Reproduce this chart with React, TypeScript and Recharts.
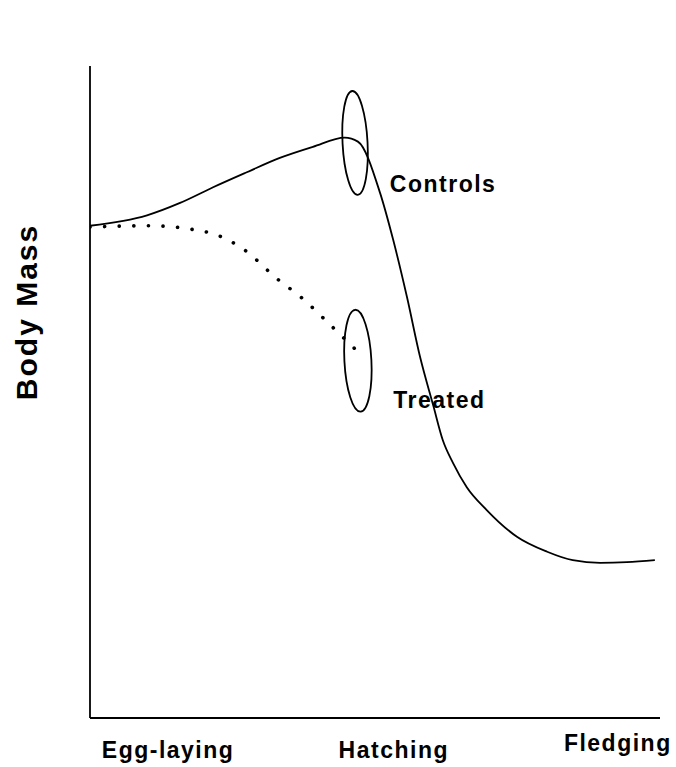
import React from 'react';
import { LineChart, Line, XAxis, YAxis, ReferenceDot } from 'recharts';

// stage along the breeding season (0-100) vs relative body mass (0-100)
const controlStage = [0, 10, 15.8, 21.6, 27.5, 33.3, 39.1, 44.7, 47.0, 50.9, 53.2, 55.6, 57.9, 60.2, 61.9, 63.7, 66.1, 69.6, 74.9, 80.2, 84.7, 89.5, 94.2, 99.1];
const controlMass = [75.5, 77.1, 79.0, 81.4, 83.7, 85.9, 87.6, 89.0, 88.4, 80.5, 73.3, 64.6, 55.4, 48.0, 42.6, 39.1, 35.4, 31.9, 27.8, 25.5, 24.2, 23.8, 23.9, 24.2];

const treatedStage = [0, 10.5, 17.5, 22.8, 27.4, 32.5, 37.2, 42.5, 47.9];
const treatedMass = [75.3, 75.5, 75.0, 73.9, 71.6, 67.6, 64.4, 60.0, 55.4];

const stageTicks = [13.7, 53.3, 92.6];
const stageLabels = ['Egg-laying', 'Hatching', 'Fledging'];

// circled points at hatching
const circleStage = [46.5, 47.0];
const circleMass = [88.2, 54.8];

const seriesNames = ['Controls', 'Treated'];
const seriesLabelStage = [52.6, 53.2];
const seriesLabelMass = [80.7, 47.5];

const controls = controlStage.map((x, i) => ({ x, y: controlMass[i] }));
const treated = treatedStage.map((x, i) => ({ x, y: treatedMass[i] }));

const FONT = '"Liberation Sans", Arial, sans-serif';

const StageTick = (props: any) => {
    const { x, y, payload, index } = props;
    // Fledging sits a little higher in the original
    const lift = index === 2 ? -7 : 0;
    return (
        <text
            x={x}
            y={y + 32 + lift}
            textAnchor="middle"
            fontFamily={FONT}
            fontWeight="bold"
            fontSize={23}
            letterSpacing={1.5}
            fill="#000"
        >
            {stageLabels[stageTicks.indexOf(payload.value)]}
        </text>
    );
};

const YLabel = () => (
    <text
        x={37}
        y={312}
        transform="rotate(-90 37 312)"
        textAnchor="middle"
        fontFamily={FONT}
        fontWeight="bold"
        fontSize={30}
        letterSpacing={2}
        fill="#000"
    >
        Body Mass
    </text>
);

export default function App() {
    return (
        <div style={{ position: 'absolute', left: 0, top: 0, background: '#fff' }}>
            <LineChart
                width={676}
                height={767}
                data={controls}
                margin={{ top: 66, right: 16, bottom: 48, left: 89 }}
            >
                <XAxis
                    type="number"
                    dataKey="x"
                    domain={[0, 100]}
                    ticks={stageTicks}
                    tick={<StageTick />}
                    tickLine={false}
                    height={1}
                    axisLine={{ stroke: '#000', strokeWidth: 1.8 }}
                    allowDataOverflow
                />
                <YAxis
                    type="number"
                    domain={[0, 100]}
                    tick={false}
                    tickLine={false}
                    width={1}
                    axisLine={{ stroke: '#000', strokeWidth: 1.8 }}
                    label={<YLabel />}
                    allowDataOverflow
                />
                <Line
                    data={controls}
                    dataKey="y"
                    type="monotone"
                    stroke="#000"
                    strokeWidth={1.8}
                    dot={false}
                    activeDot={false}
                    isAnimationActive={false}
                />
                <Line
                    data={treated}
                    dataKey="y"
                    type="monotone"
                    stroke="#000"
                    strokeWidth={3.6}
                    strokeDasharray="0.1 14.5"
                    strokeLinecap="round"
                    dot={false}
                    activeDot={false}
                    isAnimationActive={false}
                />
                {circleStage.map((cx, i) => (
                    <ReferenceDot
                        key={`circle-${i}`}
                        x={cx}
                        y={circleMass[i]}
                        r={1}
                        shape={(p: any) => (
                            <ellipse
                                cx={p.cx}
                                cy={p.cy}
                                rx={i === 0 ? 12.5 : 13.5}
                                ry={i === 0 ? 52 : 51}
                                fill="none"
                                stroke="#000"
                                strokeWidth={1.8}
                                transform={`rotate(-3 ${p.cx} ${p.cy})`}
                            />
                        )}
                    />
                ))}
                {seriesNames.map((name, i) => (
                    <ReferenceDot
                        key={`name-${i}`}
                        x={seriesLabelStage[i]}
                        y={seriesLabelMass[i]}
                        r={1}
                        shape={(p: any) => (
                            <text
                                x={p.cx}
                                y={p.cy}
                                fontFamily={FONT}
                                fontWeight="bold"
                                fontSize={23}
                                letterSpacing={1.5}
                                fill="#000"
                            >
                                {name}
                            </text>
                        )}
                    />
                ))}
            </LineChart>
        </div>
    );
}
